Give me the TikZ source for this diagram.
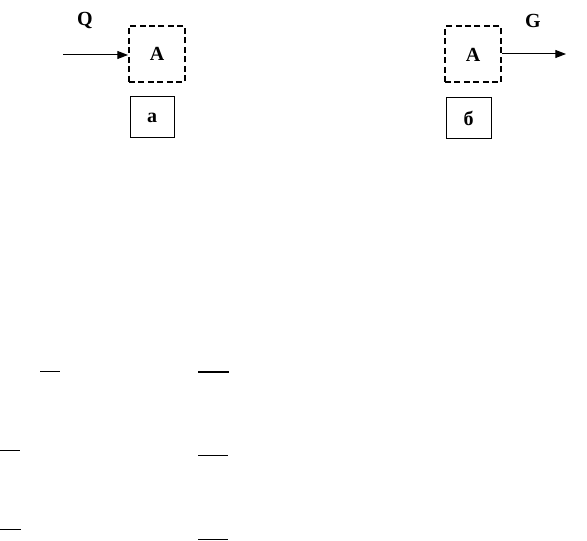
\documentclass[tikz,border=0pt]{standalone}
\usepackage{fontspec}
\setmainfont{Liberation Serif}
\usetikzlibrary{arrows.meta}
\tikzset{
  txt/.style={font=\bfseries\fontsize{15}{17}\selectfont},
  dbox/.style={txt, draw, line width=1.5pt, dash pattern=on 4.5pt off 2.6pt, minimum width=56*0.75pt, minimum height=56*0.75pt, inner sep=0pt},
  sbox/.style={txt, draw, line width=0.75pt, minimum width=44*0.75pt, minimum height=41*0.75pt, inner sep=0pt},
  lbl/.style={txt, inner sep=0pt},
  arr/.style={line width=0.75pt, -{Triangle[length=8pt,width=6pt]}},
  seg/.style={line width=0.75pt},
}
\begin{document}
\begin{tikzpicture}[x=0.75pt,y=-0.75pt]
\useasboundingbox (0,0) rectangle (587,541);
% left
\node[dbox] (A1) at (157,54) {A};
\node[sbox] (a) at (152,117.5) {а};
\coordinate (q0) at (63,55);
\draw[arr] (q0) -- (A1.west |- q0);
\node[lbl] (Q) at (85,21) {Q};
% right
\node[dbox] (A2) at (473,54.5) {A};
\node[sbox, minimum width=45*0.75pt] (b) at (468.5,118) {б};
\coordinate (g1) at (566,54);
\draw[arr] (A2.east |- g1) -- (g1);
\node[lbl] (G) at (533,21) {G};
% bottom segments
\coordinate (s1a) at (40,372); \coordinate (s1b) at (60,372);
\draw[seg] (s1a) -- (s1b);
\coordinate (s2a) at (198,372); \coordinate (s2b) at (229,372);
\draw[line width=1.5pt] (s2a) -- (s2b);
\coordinate (s3a) at (0,451); \coordinate (s3b) at (20,451);
\draw[seg] (s3a) -- (s3b);
\coordinate (s4a) at (198,456); \coordinate (s4b) at (228,456);
\draw[seg] (s4a) -- (s4b);
\coordinate (s5a) at (0,530); \coordinate (s5b) at (21,530);
\draw[seg] (s5a) -- (s5b);
\coordinate (s6a) at (198,540); \coordinate (s6b) at (228,540);
\draw[seg] (s6a) -- (s6b);
\end{tikzpicture}
\end{document}
